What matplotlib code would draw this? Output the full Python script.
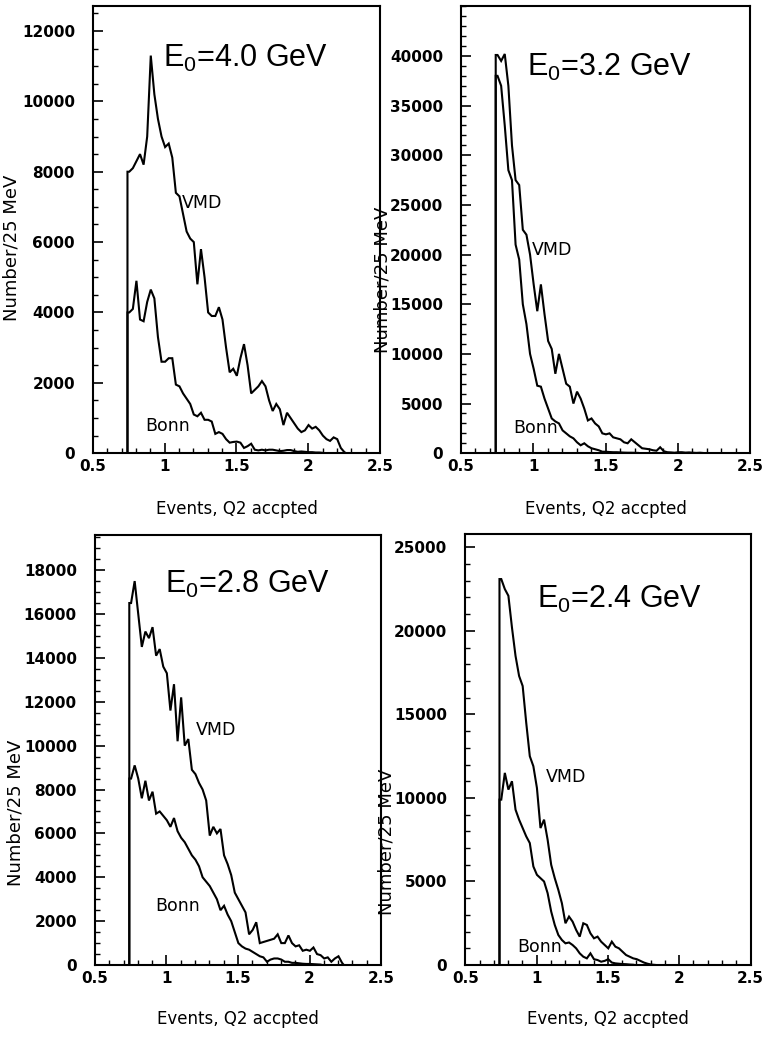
import numpy as np
import matplotlib
matplotlib.use("Agg")
import matplotlib.pyplot as plt
from matplotlib.ticker import MultipleLocator

plt.rcParams['font.family'] = ['DejaVu Sans']
plt.rcParams['mathtext.fontset'] = 'custom'
plt.rcParams['mathtext.rm'] = 'Liberation Sans'

BIN_START = 0.74
BIN_WIDTH = 0.025

titles = ["4.0", "3.2", "2.8", "2.4"]

vmd_40 = [8000, 8100, 8300, 8500, 8200, 9000, 11300, 10200, 9500, 9000, 8700, 8800, 8400, 7400, 7300,
          6800, 6300, 6100, 6000, 4800, 5800, 5000, 4000, 3900, 3900, 4150, 3800, 3000, 2300, 2400,
          2200, 2700, 3100, 2500, 1700, 1800, 1900, 2050, 1900, 1500, 1200, 1400, 1250, 800, 1150,
          1000, 850, 700, 600, 650, 800, 700, 750, 650, 500, 400, 350, 450, 400, 150, 30]
bonn_40 = [4000, 4100, 4900, 3800, 3750, 4300, 4650, 4400, 3300, 2600, 2600, 2700, 2700, 1950, 1900,
           1700, 1550, 1400, 1100, 1050, 1150, 950, 950, 900, 550, 600, 550, 400, 300, 320, 330, 300,
           150, 200, 270, 100, 80, 100, 80, 100, 100, 80, 60, 70, 90, 90, 60, 40, 50, 40, 30, 30, 20,
           20, 10]

vmd_32 = [40100, 39500, 40200, 37000, 31000, 27500, 27000, 22500, 22000, 20000, 17000, 14300, 17000,
          14000, 11300, 10500, 8000, 10000, 8500, 7000, 6700, 5000, 6200, 5500, 4500, 3300, 3500, 3000,
          2700, 2000, 1900, 2000, 1600, 1500, 1400, 1100, 1000, 1400, 1100, 800, 500, 450, 400, 300,
          250, 600, 200, 100, 80, 50, 100, 100, 60, 80, 50, 30, 50, 20]
bonn_32 = [38000, 37000, 33000, 28500, 27500, 21000, 19500, 15000, 13000, 10000, 8500, 6800, 6700,
           5500, 4500, 3500, 3200, 3000, 2300, 2000, 1700, 1500, 1100, 800, 1000, 700, 500, 400, 300,
           150, 150, 120, 100, 100, 80, 60, 50, 50, 40, 30]

vmd_28 = [16500, 17500, 16000, 14500, 15200, 14900, 15400, 14100, 14400, 13600, 13300, 11600, 12800,
          10200, 12200, 10000, 10300, 8900, 8700, 8300, 8000, 7500, 5900, 6300, 6000, 6200, 5000, 4600,
          4100, 3300, 3000, 2700, 2400, 1400, 1600, 1950, 1000, 1050, 1100, 1150, 1200, 1400, 1000,
          1000, 1350, 1000, 850, 900, 650, 700, 650, 800, 500, 450, 300, 350, 150, 300, 400, 100]
bonn_28 = [8500, 9100, 8500, 7600, 8400, 7500, 7900, 6900, 7000, 6800, 6600, 6300, 6700, 6100, 5800,
           5600, 5300, 5000, 4800, 4500, 4000, 3800, 3600, 3300, 3000, 2500, 2700, 2300, 2000, 1500,
           1000, 850, 750, 700, 600, 500, 400, 350, 150, 250, 300, 300, 250, 150, 150, 100, 100, 80,
           60, 50, 50, 40, 30, 20]

vmd_24 = [23100, 22500, 22100, 20200, 18500, 17300, 16700, 14500, 12500, 11900, 10600, 8200, 8700,
          7500, 6000, 5200, 4500, 3700, 2500, 2900, 2600, 2100, 1700, 2500, 2400, 1900, 1600, 1700,
          1400, 1200, 1000, 1400, 1100, 1000, 800, 600, 500, 400, 350, 250, 150, 80, 30, 10]
bonn_24 = [9900, 11500, 10500, 11000, 9300, 8700, 8200, 7700, 7300, 5900, 5400, 5200, 5000, 4300,
           3200, 2400, 1800, 1500, 1300, 1350, 1200, 1000, 700, 500, 400, 700, 350, 300, 200, 250,
           350, 150, 100, 80, 60, 50, 30, 20]

y_max = [12700, 45000, 19600, 25800]
y_step = [2000, 5000, 2000, 5000]
y_top_tick = [12000, 40000, 18000, 25000]
y_minor = [500, 1000, 500, 1000]

panels = [
    dict(vmd=vmd_40, bonn=bonn_40, pos=[0.121, 0.570, 0.373, 0.424],
         title=(0.244, 0.884), vmdlab=(0.31, 0.561), bonnlab=(0.181, 0.060), ylab=(-0.254, 0.46)),
    dict(vmd=vmd_32, bonn=bonn_32, pos=[0.5995, 0.570, 0.376, 0.424],
         title=(0.227, 0.864), vmdlab=(0.245, 0.454), bonnlab=(0.18, 0.056), ylab=(-0.239, 0.387)),
    dict(vmd=vmd_28, bonn=bonn_28, pos=[0.1235, 0.0844, 0.372, 0.408],
         title=(0.245, 0.884), vmdlab=(0.353, 0.547), bonnlab=(0.21, 0.137), ylab=(-0.245, 0.353)),
    dict(vmd=vmd_24, bonn=bonn_24, pos=[0.605, 0.0844, 0.371, 0.409],
         title=(0.25, 0.847), vmdlab=(0.281, 0.436), bonnlab=(0.181, 0.042), ylab=(-0.246, 0.285)),
]


def hist_line(values):
    v = np.asarray(values, dtype=float)
    n = len(v)
    centers = BIN_START + BIN_WIDTH * (np.arange(n) + 0.5)
    x = np.concatenate([[BIN_START, BIN_START], centers, [BIN_START + BIN_WIDTH * n]])
    y = np.concatenate([[0.0, v[0]], v, [0.0]])
    return x, y


fig = plt.figure(figsize=(7.69, 10.54), dpi=100)
for i, p in enumerate(panels):
    ax = fig.add_axes(p['pos'])
    for key in ('vmd', 'bonn'):
        x, y = hist_line(p[key])
        ax.plot(x, y, color='black', lw=1.5, solid_joinstyle='miter')
    ax.set_xlim(0.5, 2.5)
    ax.set_ylim(0, y_max[i])
    ax.set_xticks([0.5, 1.0, 1.5, 2.0, 2.5])
    ax.set_xticklabels(['0.5', '1', '1.5', '2', '2.5'])
    ax.set_yticks(np.arange(0, y_top_tick[i] + 1, y_step[i]))
    ax.xaxis.set_minor_locator(MultipleLocator(0.1))
    ax.yaxis.set_minor_locator(MultipleLocator(y_minor[i]))
    ax.tick_params(which='major', direction='in', length=7, width=1.2, labelsize=11, pad=4)
    ax.tick_params(which='minor', direction='in', length=3.5, width=1.0)
    ax.tick_params(axis='y', which='major', pad=13)
    for lab in ax.get_xticklabels() + ax.get_yticklabels():
        lab.set_fontweight('bold')
    for s in ax.spines.values():
        s.set_linewidth(1.5)
    ax.text(p['title'][0], p['title'][1], r'E$_{\rm 0}$=' + titles[i] + ' GeV',
            transform=ax.transAxes, fontsize=22, va='center', ha='left',
            family='Liberation Sans')
    ax.text(p['vmdlab'][0], p['vmdlab'][1], 'VMD', transform=ax.transAxes,
            fontsize=12.5, va='center', ha='left')
    ax.text(p['bonnlab'][0], p['bonnlab'][1], 'Bonn', transform=ax.transAxes,
            fontsize=12.5, va='center', ha='left')
    ax.set_ylabel('Number/25 MeV', fontsize=13)
    ax.yaxis.set_label_coords(p['ylab'][0], p['ylab'][1])
    ax.set_xlabel('Events, Q2 accpted', fontsize=12)
    ax.xaxis.set_label_coords(0.5, -0.105)

fig.savefig('out.png', dpi=100)
